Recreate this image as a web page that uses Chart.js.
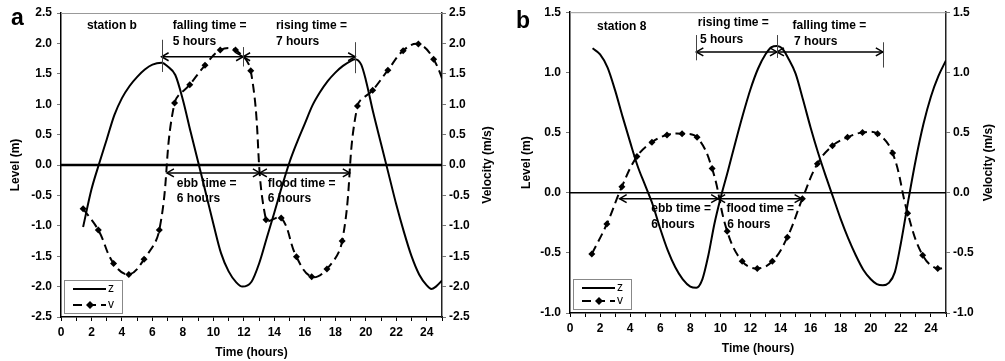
<!DOCTYPE html>
<html>
<head>
<meta charset="utf-8">
<script src="https://cdn.jsdelivr.net/npm/chart.js@4.4.1/dist/chart.umd.min.js"></script>
<style>
html, body { margin: 0; padding: 0; background: #fff; }
#wrap { position: relative; width: 1005px; height: 361px; }
#wrap canvas { position: absolute; top: 0; }
</style>
</head>
<body>
<div id="wrap">
  <canvas id="chartA" width="500" height="361" style="left:0"></canvas>
  <canvas id="chartB" width="505" height="361" style="left:500px"></canvas>
</div>
<script>
// velocity samples (both stations, same times)
const hoursV = [1.45, 2.45, 3.45, 4.45, 5.45, 6.45, 7.45, 8.45, 9.45, 10.45, 11.45, 12.45,
  13.45, 14.45, 15.45, 16.45, 17.45, 18.45, 19.45, 20.45, 21.45, 22.45, 23.45, 24.45, 25.45];
const velA = [-0.72, -1.07, -1.62, -1.8, -1.55, -1.07, 1.02, 1.32, 1.64, 1.89, 1.89, 1.55,
  -0.9, -0.87, -1.51, -1.84, -1.71, -1.25, 0.97, 1.23, 1.56, 1.88, 1.99, 1.74, 1.1];
const velB = [-0.51, -0.26, 0.05, 0.3, 0.42, 0.48, 0.49, 0.46, 0.2, -0.32, -0.57, -0.63,
  -0.57, -0.37, -0.05, 0.24, 0.39, 0.46, 0.5, 0.49, 0.33, -0.17, -0.52, -0.63, -0.58];

// water level, station b
const hoursZA = [1.45, 2, 2.5, 3, 3.5, 4, 4.5, 5, 5.5, 6, 6.6, 7, 7.5, 8, 8.5, 9, 9.5, 10, 10.5, 11,
  11.5, 11.9, 12.5, 13, 13.5, 14, 14.5, 15, 15.5, 16, 16.5, 17, 17.5, 18, 18.5, 19, 19.3, 19.7, 20,
  20.5, 21, 21.5, 22, 22.5, 23, 23.5, 24, 24.3, 24.6, 25];
const levelA = [-1.02, -0.4, 0.02, 0.42, 0.82, 1.1, 1.3, 1.45, 1.57, 1.65, 1.68, 1.62, 1.48, 1.07,
  0.55, 0.05, -0.46, -0.97, -1.45, -1.75, -1.93, -2.0, -1.92, -1.62, -1.2, -0.78, -0.35, 0.05, 0.38,
  0.68, 0.98, 1.2, 1.38, 1.52, 1.63, 1.71, 1.74, 1.65, 1.4, 0.85, 0.35, -0.15, -0.65, -1.1, -1.5,
  -1.8, -1.98, -2.04, -2.0, -1.9];

// water level, station 8
const hoursZB = [1.5, 2, 2.5, 3, 3.5, 4, 4.5, 5, 5.5, 6, 6.5, 7, 7.5, 8, 8.4, 8.8, 9.2, 9.6, 10,
  10.5, 11, 11.5, 12, 12.5, 13, 13.4, 13.76, 14.1, 14.5, 15, 15.5, 16, 16.5, 17, 17.5, 18, 18.5, 19,
  19.5, 20, 20.4, 20.8, 21.2, 21.6, 22, 22.5, 23, 23.5, 24, 24.5, 25];
const levelB = [1.2, 1.15, 1.04, 0.85, 0.63, 0.42, 0.22, 0.06, -0.1, -0.3, -0.48, -0.62, -0.72,
  -0.78, -0.79, -0.72, -0.52, -0.26, -0.05, 0.18, 0.42, 0.65, 0.86, 1.03, 1.15, 1.21, 1.22, 1.2,
  1.12, 0.99, 0.77, 0.54, 0.33, 0.14, -0.04, -0.22, -0.38, -0.52, -0.64, -0.72, -0.76, -0.77, -0.75,
  -0.66, -0.42, -0.06, 0.28, 0.57, 0.8, 0.97, 1.1];

// annotations: [text, hour, level]
const notesA = [
  ['station b', 1.7, 2.29],
  ['falling time =', 7.33, 2.29], ['5 hours', 7.33, 2.02],
  ['rising time =', 14.1, 2.29], ['7 hours', 14.1, 2.02],
  ['ebb time =', 7.6, -0.3], ['6 hours', 7.6, -0.56],
  ['flood time =', 13.57, -0.3], ['6 hours', 13.57, -0.56]
];
const notesB = [
  ['station 8', 1.8, 1.38],
  ['rising time =', 8.5, 1.41], ['5 hours', 8.64, 1.275],
  ['falling time =', 14.8, 1.39], ['7 hours', 14.9, 1.255],
  ['ebb time =', 5.4, -0.135], ['6 hours', 5.4, -0.27],
  ['flood time =', 10.4, -0.135], ['6 hours', 10.45, -0.27]
];
// double arrows: [from, to, level]; vertical markers: [hour, low, high]
const arrowsA = [[6.6, 11.95, 1.78], [11.95, 19.3, 1.78], [6.95, 13.05, -0.13], [13.05, 18.95, -0.13]];
const marksA = [[6.6, 1.53, 2.06], [11.95, 1.62, 1.94], [19.3, 1.51, 2.02]];
const arrowsB = [[8.4, 13.76, 1.17], [13.76, 20.8, 1.17], [3.3, 9.85, -0.05], [9.85, 15.4, -0.05]];
const marksB = [[8.4, 1.1, 1.31], [13.76, 1.12, 1.31], [20.8, 1.04, 1.25]];

const FONT = "'Liberation Sans', Arial, sans-serif";
Chart.defaults.font.family = FONT;
Chart.defaults.color = '#000';

function pts(xs, ys) { return xs.map((x, i) => ({ x: x, y: ys[i] })); }

function arrowHead(ctx, x, y, dir) {
  ctx.beginPath();
  ctx.moveTo(x + dir * 7, y - 4);
  ctx.lineTo(x, y);
  ctx.lineTo(x + dir * 7, y + 4);
  ctx.stroke();
}

const overlay = {
  id: 'overlay',
  beforeDatasetsDraw(chart, args, o) {
    const ctx = chart.ctx, ca = chart.chartArea, ys = chart.scales.y;
    ctx.save();
    ctx.strokeStyle = '#000';
    ctx.lineWidth = o.zeroWidth;
    const y0 = ys.getPixelForValue(0);
    ctx.beginPath(); ctx.moveTo(ca.left, y0); ctx.lineTo(ca.right, y0); ctx.stroke();
    ctx.strokeStyle = '#999';
    ctx.lineWidth = 1;
    ctx.beginPath(); ctx.moveTo(ca.left, ca.top + 0.5); ctx.lineTo(ca.right, ca.top + 0.5); ctx.stroke();
    ctx.restore();
  },
  afterDraw(chart, args, o) {
    const ctx = chart.ctx, ca = chart.chartArea, xs = chart.scales.x, ys = chart.scales.y;
    ctx.save();
    // panel letter
    ctx.fillStyle = '#000';
    ctx.font = 'bold 23px ' + FONT;
    ctx.textBaseline = 'alphabetic';
    ctx.textAlign = 'left';
    ctx.fillText(o.letter, o.letterX, o.letterY);
    // axis titles
    ctx.font = 'bold 12px ' + FONT;
    ctx.textAlign = 'center';
    ctx.textBaseline = 'middle';
    ctx.fillText('Time (hours)', (ca.left + ca.right) / 2, o.xTitleY);
    const my = (ca.top + ca.bottom) / 2;
    [[o.leftTitleX, 'Level (m)'], [o.rightTitleX, 'Velocity (m/s)']].forEach(t => {
      ctx.save();
      ctx.translate(t[0], my);
      ctx.rotate(-Math.PI / 2);
      ctx.fillText(t[1], 0, 0);
      ctx.restore();
    });
    // notes
    ctx.textAlign = 'left';
    o.notes.forEach(n => ctx.fillText(n[0], xs.getPixelForValue(n[1]), ys.getPixelForValue(n[2])));
    // arrows
    ctx.strokeStyle = '#000';
    ctx.lineWidth = 1.5;
    o.arrows.forEach(a => {
      const x1 = xs.getPixelForValue(a[0]), x2 = xs.getPixelForValue(a[1]), y = ys.getPixelForValue(a[2]);
      ctx.beginPath(); ctx.moveTo(x1, y); ctx.lineTo(x2, y); ctx.stroke();
      arrowHead(ctx, x1, y, 1);
      arrowHead(ctx, x2, y, -1);
    });
    ctx.strokeStyle = '#444';
    ctx.lineWidth = 1;
    o.marks.forEach(m => {
      const x = Math.round(xs.getPixelForValue(m[0])) + 0.5;
      ctx.beginPath(); ctx.moveTo(x, ys.getPixelForValue(m[1])); ctx.lineTo(x, ys.getPixelForValue(m[2])); ctx.stroke();
    });
    // legend box
    const bx = ca.left + 3, by = ca.bottom - o.legendH - 4;
    ctx.fillStyle = '#fff';
    ctx.fillRect(bx, by, 58, o.legendH);
    ctx.strokeStyle = '#888';
    ctx.lineWidth = 1;
    ctx.strokeRect(bx + 0.5, by + 0.5, 58, o.legendH);
    ctx.strokeStyle = '#000';
    ctx.lineWidth = 2;
    const r1 = by + 9, r2 = by + o.legendH - 8;
    ctx.beginPath(); ctx.moveTo(bx + 9, r1); ctx.lineTo(bx + 42, r1); ctx.stroke();
    ctx.setLineDash([9, 5]);
    ctx.beginPath(); ctx.moveTo(bx + 9, r2); ctx.lineTo(bx + 42, r2); ctx.stroke();
    ctx.setLineDash([]);
    ctx.fillStyle = '#000';
    const cx = bx + 26;
    ctx.beginPath();
    ctx.moveTo(cx, r2 - 4); ctx.lineTo(cx + 4, r2); ctx.lineTo(cx, r2 + 4); ctx.lineTo(cx - 4, r2);
    ctx.closePath(); ctx.fill();
    ctx.font = '12px ' + FONT;
    ctx.fillText('z', bx + 44, r1);
    ctx.fillText('v', bx + 44, r2);
    ctx.restore();
  }
};

function makePanel(id, zHours, zLevels, vel, yMin, yMax, geo, extra) {
  const tickFont = { size: 12, weight: 'bold', family: FONT };
  const yAxis = (pos, width, pad) => ({
    type: 'linear', position: pos, min: yMin, max: yMax,
    afterFit: s => { s.width = width; },
    border: { display: true, color: pos === 'left' ? '#000' : '#222', width: 1.5 },
    grid: { drawOnChartArea: false, drawTicks: true, tickLength: 4, color: '#777' },
    ticks: { stepSize: 0.5, font: tickFont, padding: pad, color: '#000',
      callback: v => v.toFixed(1) }
  });
  return new Chart(document.getElementById(id), {
    type: 'line',
    data: {
      datasets: [
        { label: 'z', data: pts(zHours, zLevels), yAxisID: 'y', borderColor: '#000', borderWidth: 2,
          pointRadius: 0, cubicInterpolationMode: 'monotone', clip: 0 },
        { label: 'v', data: pts(hoursV, vel), yAxisID: 'yR', borderColor: '#000', borderWidth: 2,
          borderDash: [9, 5], pointStyle: 'rectRot', pointRadius: 3.5, pointBackgroundColor: '#000',
          pointBorderColor: '#000', pointBorderWidth: 0, tension: 0.4, clip: 0 }
      ]
    },
    options: {
      responsive: false,
      animation: false,
      layout: { padding: { top: geo.top, left: 0, right: 0, bottom: 0 } },
      plugins: { legend: { display: false }, tooltip: { enabled: false }, overlay: extra },
      scales: {
        x: {
          type: 'linear', min: 0, max: 25,
          afterFit: s => { s.height = geo.bottomH; },
          border: { display: true, color: '#000', width: 1.5 },
          grid: { drawOnChartArea: false, drawTicks: true, tickLength: 4, color: '#000' },
          ticks: { stepSize: 1, autoSkip: false, maxRotation: 0, font: tickFont, padding: 4,
            callback: v => (v % 2 === 0 && v < 25 ? String(v) : '') }
        },
        y: yAxis('left', geo.leftW, 5),
        yR: yAxis('right', geo.rightW, 3)
      }
    },
    plugins: [overlay]
  });
}

makePanel('chartA', hoursZA, levelA, velA, -2.5, 2.5,
  { top: 13, leftW: 61, rightW: 58, bottomH: 44 },
  { letter: 'a', letterX: 11, letterY: 25, xTitleY: 353, leftTitleX: 16, rightTitleX: 488,
    zeroWidth: 2.5, notes: notesA, arrows: arrowsA, marks: marksA, legendH: 33 });

makePanel('chartB', hoursZB, levelB, velB, -1.0, 1.5,
  { top: 12, leftW: 70, rightW: 59, bottomH: 48 },
  { letter: 'b', letterX: 16, letterY: 28, xTitleY: 349, leftTitleX: 27, rightTitleX: 489,
    zeroWidth: 1.5, notes: notesB, arrows: arrowsB, marks: marksB, legendH: 30 });
</script>
</body>
</html>
